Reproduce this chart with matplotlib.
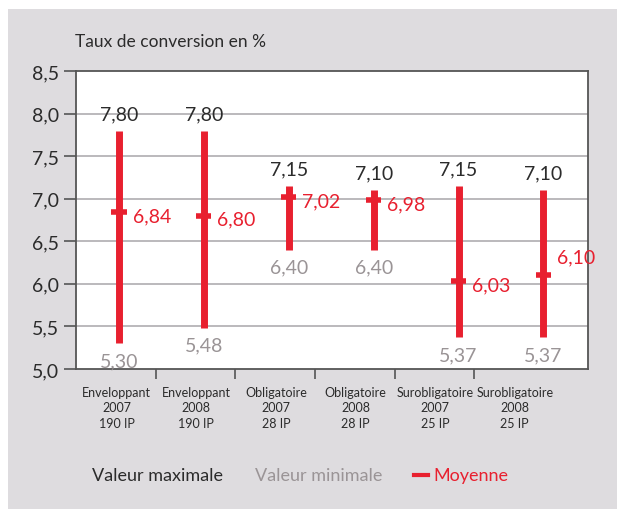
import matplotlib.pyplot as plt
from matplotlib.patches import Rectangle

plt.rcParams['font.family'] = ['Lato', 'DejaVu Sans']

categories = ['Enveloppant\n2007\n190 IP', 'Enveloppant\n2008\n190 IP',
              'Obligatoire\n2007\n28 IP', 'Obligatoire\n2008\n28 IP',
              'Surobligatoire\n2007\n25 IP', 'Surobligatoire\n2008\n25 IP']
max_vals = [7.80, 7.80, 7.15, 7.10, 7.15, 7.10]
min_vals = [5.30, 5.48, 6.40, 6.40, 5.37, 5.37]
mean_vals = [6.84, 6.80, 7.02, 6.98, 6.03, 6.10]

RED = '#e8202f'
DARK = '#2b2b2b'
GREY = '#9a9496'
PANEL = '#dedcdf'

def fmt(v):
    return f'{v:.2f}'.replace('.', ',')

fig = plt.figure(figsize=(6.17, 5.10), dpi=100)
fig.patches.append(Rectangle((8 / 617, 0), 1, 500 / 510, transform=fig.transFigure,
                             facecolor=PANEL, edgecolor='none', zorder=-10))

ax = fig.add_axes([76 / 617, 140 / 510, 512 / 617, 298 / 510])
ax.set_facecolor('white')
ax.set_xlim(0, 6.43)
ax.set_ylim(5.0, 8.5)

# y axis
yt = [5.0, 5.5, 6.0, 6.5, 7.0, 7.5, 8.0, 8.5]
ax.set_yticks(yt)
ax.set_yticklabels([f'{v:.1f}'.replace('.', ',') for v in yt], fontsize=14, color=DARK)
for v in yt[1:-1]:
    ax.axhline(v, color='#b5b3b6', lw=1.3, zorder=1)
ax.tick_params(axis='y', length=9, width=1.2, color='#555555', pad=3)

# x axis: ticks at category boundaries, labels centred between them
ax.set_xticks([1, 2, 3, 4, 5])
ax.set_xticklabels([])
ax.set_xticks([i + 0.51 for i in range(6)], minor=True)
ax.set_xticklabels(categories, minor=True, fontsize=9, color=DARK, linespacing=1.35)
ax.tick_params(axis='x', which='major', length=7, width=1.2, color='#555555', direction='out')
ax.tick_params(axis='x', which='minor', length=0, pad=12)

for s in ax.spines.values():
    s.set_color('#555555')
    s.set_linewidth(1.3)

bar_x = [0.54 + 1.066 * i for i in range(6)]
ax.vlines(bar_x, min_vals, max_vals, color=RED, lw=5, zorder=3)
ax.hlines(mean_vals, [x - 0.095 for x in bar_x], [x + 0.095 for x in bar_x],
          color=RED, lw=4, zorder=4)

for i, x in enumerate(bar_x):
    ax.text(x, max_vals[i] + 0.1, fmt(max_vals[i]), ha='center', va='bottom',
            fontsize=14, color=DARK)
    ax.text(x, min_vals[i] - 0.1, fmt(min_vals[i]), ha='center', va='top',
            fontsize=14, color=GREY)
    dy = 0.22 if i == 5 else -0.04
    ax.text(x + 0.17, mean_vals[i] + dy, fmt(mean_vals[i]), ha='left', va='center',
            fontsize=14, color=RED)

fig.text(75 / 617, 1 - 42 / 510, 'Taux de conversion en %', fontsize=12.5,
         color=DARK, ha='left', va='center')

# legend row
ly = 1 - 476 / 510
fig.text(92 / 617, ly, 'Valeur maximale', fontsize=13, color=DARK, va='center')
fig.text(255 / 617, ly, 'Valeur minimale', fontsize=13, color=GREY, va='center')
fig.lines.append(plt.Line2D([414 / 617, 428 / 617], [ly, ly], transform=fig.transFigure,
                            color=RED, lw=3))
fig.text(433 / 617, ly, 'Moyenne', fontsize=13, color=RED, va='center')

fig.savefig('out.png', dpi=100)
